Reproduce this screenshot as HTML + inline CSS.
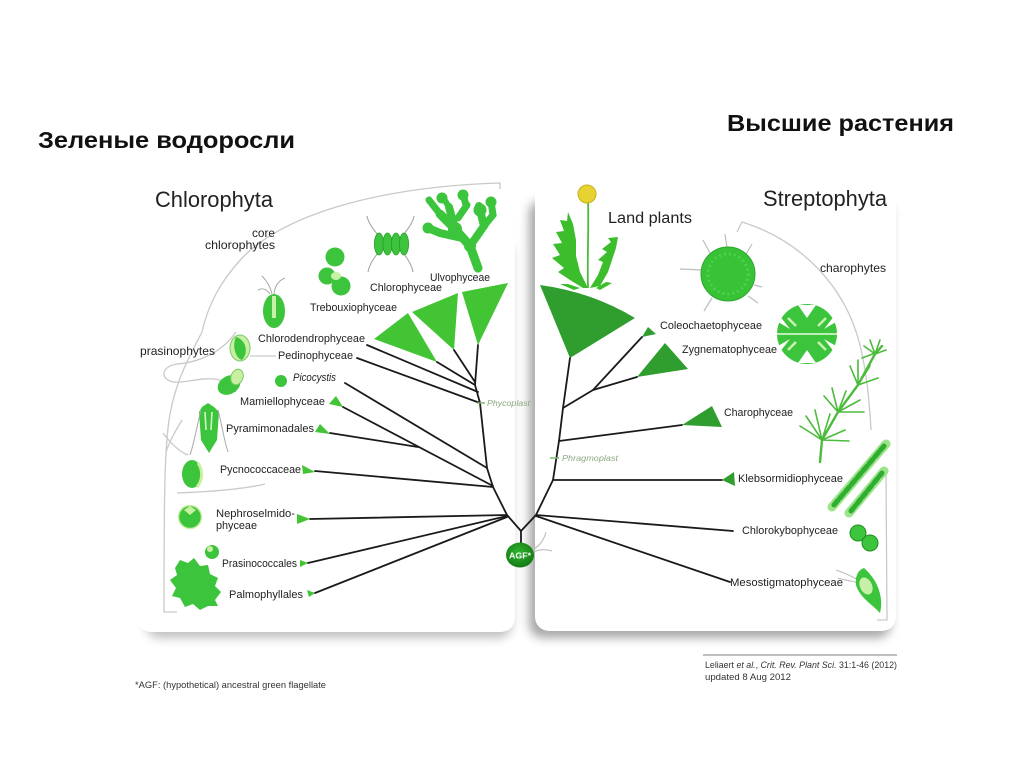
<!DOCTYPE html>
<html><head><meta charset="utf-8"><style>
html,body{margin:0;padding:0;background:#fff;}
svg{display:block;}
text{font-family:"Liberation Sans","DejaVu Sans",sans-serif;fill:#222;}
</style></head><body>
<svg width="1024" height="767" viewBox="0 0 1024 767" xmlns="http://www.w3.org/2000/svg">
<defs>
<filter id="blur" x="-20%" y="-20%" width="140%" height="140%"><feGaussianBlur stdDeviation="5"/></filter>
<radialGradient id="agf" cx="45%" cy="40%" r="60%"><stop offset="0" stop-color="#2fb52f"/><stop offset="1" stop-color="#157a15"/></radialGradient>
</defs>
<rect width="1024" height="767" fill="#fff"/>

<!-- headings -->
<text x="38" y="148" font-size="23" font-weight="bold" textLength="257" lengthAdjust="spacingAndGlyphs" style="fill:#111">Зеленые водоросли</text>
<text x="727" y="131" font-size="23" font-weight="bold" textLength="227" lengthAdjust="spacingAndGlyphs" style="fill:#111">Высшие растения</text>

<!-- panel shadows -->
<rect x="146" y="240" width="366" height="398" rx="14" fill="#8a8a8a" opacity=".55" filter="url(#blur)"/>
<rect x="529" y="200" width="362" height="438" rx="14" fill="#8a8a8a" opacity=".75" filter="url(#blur)"/>
<rect x="535" y="183" width="361" height="448" rx="14" fill="#fff"/>
<rect x="137" y="180" width="378" height="452" rx="14" fill="#fff"/>

<!-- grey arcs left -->
<g fill="none" stroke="#c9c9c9" stroke-width="1.3">
<path d="M500,189 L500,183 C400,186 292,207 242,258 C220,282 208,305 202,332"/>
<path d="M202,332 C192,352 175,380 169,420 C165,450 164,480 164,612 L177,612"/>
<path d="M236,332 C222,352 200,362 178,364 C158,366 160,384 180,382 C202,380 222,372 236,392"/>
<path d="M250,356 L276,356"/>
<path d="M163,433 C172,445 180,452 188,455"/>
<path d="M177,493 C205,492 240,490 265,484"/>
<path d="M182,420 C176,430 170,440 166,452"/>
</g>
<!-- grey arcs right -->
<g fill="none" stroke="#c9c9c9" stroke-width="1.3">
<path d="M737,232 L742,222 C800,240 845,285 860,345 C866,370 869,395 871,430"/>
<path d="M878,472 L886,474 L887,620 L877,620"/>
</g>

<!-- left titles -->
<text x="155" y="207" font-size="22" textLength="118" lengthAdjust="spacingAndGlyphs">Chlorophyta</text>
<text x="252" y="237" font-size="12" textLength="23" lengthAdjust="spacingAndGlyphs">core</text>
<text x="205" y="249" font-size="12" textLength="70" lengthAdjust="spacingAndGlyphs">chlorophytes</text>
<text x="140" y="355" font-size="12" textLength="75" lengthAdjust="spacingAndGlyphs">prasinophytes</text>

<!-- right titles -->
<text x="763" y="206" font-size="22" textLength="124" lengthAdjust="spacingAndGlyphs">Streptophyta</text>
<text x="608" y="223" font-size="15.5" textLength="84" lengthAdjust="spacingAndGlyphs">Land plants</text>
<text x="820" y="272" font-size="12" textLength="66" lengthAdjust="spacingAndGlyphs">charophytes</text>

<!-- organisms left -->
<g fill="#3cc43c">
<!-- Ulvophyceae -->
<g stroke="#3cc43c" stroke-linecap="round" fill="none">
<path d="M478,268 L470,246 L455,229 L440,214" stroke-width="9"/>
<path d="M470,246 L484,226 L479,206" stroke-width="8"/>
<path d="M455,229 L449,207" stroke-width="8"/>
<path d="M440,214 L429,200" stroke-width="7"/>
<path d="M484,226 L493,215 L491,201" stroke-width="7"/>
<path d="M462,238 L440,233 L428,228" stroke-width="8"/>
<path d="M449,207 L442,196" stroke-width="6"/>
<path d="M466,205 L463,194" stroke-width="7"/>
<path d="M458,218 L467,205" stroke-width="7"/>
</g>
<circle cx="442" cy="198" r="5.5"/><circle cx="463" cy="195" r="5.5"/><circle cx="480" cy="210" r="6.5"/><circle cx="491" cy="202" r="5.5"/><circle cx="428" cy="228" r="5.5"/><circle cx="455" cy="229" r="7"/><circle cx="470" cy="246" r="6"/>
<!-- Chlorophyceae (Scenedesmus) -->
<g fill="none" stroke="#a8a8a8" stroke-width="1.1">
<path d="M378,235 C372,228 368,222 367,216"/><path d="M378,253 C372,260 369,266 368,272"/>
<path d="M403,235 C409,228 413,222 414,216"/><path d="M403,253 C409,260 412,266 413,272"/>
</g>
<ellipse cx="379" cy="244" rx="4.6" ry="11" stroke="#2a9a2a" stroke-width=".8"/>
<ellipse cx="387.5" cy="244" rx="4.6" ry="11" stroke="#2a9a2a" stroke-width=".8"/>
<ellipse cx="396" cy="244" rx="4.6" ry="11" stroke="#2a9a2a" stroke-width=".8"/>
<ellipse cx="404" cy="244" rx="4.6" ry="11" stroke="#2a9a2a" stroke-width=".8"/>
<!-- Trebouxiophyceae -->
<circle cx="335" cy="257" r="9.5"/><circle cx="327" cy="276" r="8.5"/><circle cx="341" cy="286" r="9.5"/>
<ellipse cx="336" cy="276" rx="5" ry="4" fill="#c8f0a6"/>
<!-- Chlorodendro -->
<g fill="none" stroke="#a8a8a8" stroke-width="1"><path d="M272,294 C270,285 266,280 262,276"/><path d="M274,294 C275,284 280,280 285,278"/><path d="M270,294 C266,288 262,288 258,290"/></g>
<ellipse cx="274" cy="311" rx="11" ry="17"/>
<path d="M272,296 L276,296 L276,318 L272,318 Z" fill="#c8f0a6"/>
<!-- prasinophyte cells -->
<ellipse cx="240" cy="348" rx="10" ry="13" fill="#c9efa0" stroke="#7bc86b"/>
<path d="M236,337 C246,340 249,352 242,360 C235,358 232,345 236,337 Z"/>
<ellipse cx="229" cy="385" rx="12" ry="9" transform="rotate(-30 229 385)"/>
<ellipse cx="237" cy="377" rx="6" ry="8" fill="#c9efa0" stroke="#7bc86b" transform="rotate(20 237 377)"/>
<path d="M202,407 L208,403 L214,407 L219,412 L217,440 L209,453 L201,440 L199,412 Z"/>
<path d="M205,412 L206,430 M212,412 L211,430" stroke="#d8f7c8" stroke-width="1.6" fill="none"/>
<g fill="none" stroke="#a8a8a8" stroke-width="1"><path d="M201,410 C197,425 195,440 190,455"/><path d="M218,410 C222,425 224,440 228,452"/></g>
<ellipse cx="192" cy="474" rx="10" ry="14"/>
<path d="M198,463 C203,470 203,480 197,487" stroke="#c9efa0" stroke-width="3" fill="none"/>
<circle cx="190" cy="517" r="11.5" stroke="#c9efa0" stroke-width="1.5"/>
<path d="M184,510 L190,506 L196,510 L190,515 Z" fill="#c9efa0"/>
<circle cx="212" cy="552" r="7"/>
<circle cx="210" cy="549" r="3" fill="#c9efa0"/>
<path d="M175,568 L180,560 L188,563 L194,558 L200,566 L208,565 L210,574 L218,578 L215,586 L221,592 L215,600 L218,606 L208,606 L200,610 L193,604 L185,607 L180,598 L172,596 L176,588 L170,580 L177,575 Z"/>
<circle cx="281" cy="381" r="6"/>
</g>

<!-- organisms right -->
<!-- dandelion -->
<path d="M588,200 C589,230 587,260 588,288" stroke="#4cbb3c" stroke-width="1.8" fill="none"/>
<circle cx="587" cy="194" r="9" fill="#e6d231" stroke="#c9b21c"/>
<path d="M583,288 L570,280 L558,272 L564,268 L552,258 L560,255 L553,244 L562,243 L556,232 L564,231 L560,220 L567,221 L568,212 L573,224 L576,240 L576,256 L580,272 L588,288 Z" fill="#3cbe2c"/>
<path d="M590,288 L598,275 L603,262 L598,260 L607,252 L602,249 L611,242 L608,238 L618,237 L616,248 L612,260 L608,272 L600,286 Z" fill="#3cbe2c"/>
<path d="M580,288 L568,284 L560,284 L574,290 Z M596,288 L606,282 L612,283 L600,290 Z" fill="#3cbe2c"/>
<!-- Coleochaete -->
<g stroke="#bdbdbd" stroke-width="1.2">
<line x1="703" y1="240" x2="711" y2="255"/><line x1="725" y1="234" x2="727" y2="248"/><line x1="680" y1="269" x2="702" y2="270"/>
<line x1="704" y1="311" x2="712" y2="298"/><line x1="758" y1="303" x2="748" y2="296"/><line x1="762" y1="287" x2="754" y2="285"/><line x1="752" y1="244" x2="746" y2="254"/>
</g>
<circle cx="728" cy="274" r="27" fill="#38c238" stroke="#2aa82a"/>
<circle cx="728" cy="274" r="20" fill="none" stroke="#4ad44a" stroke-dasharray="2 3" stroke-width="3"/>
<!-- Micrasterias -->
<circle cx="807" cy="334" r="30" fill="#3cc43c"/>
<path d="M777,334 L837,334" stroke="#e8fbe0" stroke-width="1.5"/>
<path d="M798,305 L807,318 L816,305 Z M798,363 L807,350 L816,363 Z M778,322 L790,329 L779,315 Z M836,322 L824,329 L835,315 Z M778,346 L790,339 L779,353 Z M836,346 L824,339 L835,353 Z" fill="#ffffff"/>
<path d="M788,318 L796,326 M826,318 L818,326 M788,350 L796,342 M826,350 L818,342" stroke="#c8f0b0" stroke-width="2.5" fill="none"/>
<!-- Chara -->
<g stroke="#4cbb3c" stroke-width="1.6" fill="none" stroke-linecap="round">
<path d="M820,462 L822,440 L838,412 L858,385 L875,354 L882,346" stroke-width="2.4"/>
<path d="M822,440 L800,426 M822,440 L806,416 M822,440 L815,410 M822,440 L830,414 M822,440 L845,430 M822,440 L849,441"/>
<path d="M838,412 L824,396 M838,412 L832,388 M838,412 L846,391 M838,412 L860,400 M838,412 L864,412"/>
<path d="M858,385 L850,366 M858,385 L858,360 M858,385 L870,366 M858,385 L878,378"/>
<path d="M875,354 L864,346 M875,354 L870,340 M875,354 L880,340 M875,354 L886,350"/>
<path d="M862,358 L878,352" />
</g>
<!-- Klebsormidium -->
<g stroke-linecap="round">
<line x1="832" y1="507" x2="886" y2="444" stroke="#9ce48a" stroke-width="9"/>
<line x1="834" y1="505" x2="884" y2="446" stroke="#2fae2f" stroke-width="5" stroke-dasharray="6 3"/>
<line x1="849" y1="513" x2="884" y2="471" stroke="#9ce48a" stroke-width="9"/>
<line x1="851" y1="511" x2="882" y2="473" stroke="#2fae2f" stroke-width="5" stroke-dasharray="6 3"/>
</g>
<!-- Chlorokybus -->
<circle cx="858" cy="533" r="8" fill="#3cc43c" stroke="#1f8f1f"/>
<circle cx="870" cy="543" r="8" fill="#3cc43c" stroke="#1f8f1f"/>
<!-- Mesostigma -->
<g fill="none" stroke="#bdbdbd" stroke-width="1.1"><path d="M858,580 C850,575 842,572 836,570"/><path d="M858,583 C850,580 842,580 838,578"/></g>
<path d="M864,568 C878,580 884,598 880,613 C872,604 860,598 856,585 C855,576 858,570 864,568 Z" fill="#3cc43c"/>
<ellipse cx="866" cy="586" rx="6" ry="9" fill="#c6f0a8" transform="rotate(-25 866 586)"/>

<!-- left triangles -->
<g fill="#42c434">
<polygon points="437,362 374,339 408,313"/>
<polygon points="454,350 412,312 458,293"/>
<polygon points="478,345 462,292 508,283"/>
<polygon points="343,407 329,404 336,396"/>
<polygon points="330,434 315,432 320,424"/>
<polygon points="315,472 302,465 303,474"/>
<polygon points="310,519 297,514 297,524"/>
<polygon points="308,563 300,560 300,567"/>
<polygon points="315,593 307,590 309,597"/>
</g>
<!-- right triangles -->
<g fill="#2f9e2f">
<path d="M570,358 L540,285 Q592,292 635,318 Z"/>
<polygon points="642,337 648,327 656,334"/>
<polygon points="637,377 665,343 688,369"/>
<polygon points="682,425 712,406 722,427"/>
<polygon points="722,480 734,472 735,486"/>
</g>

<!-- tree lines -->
<g stroke="#1a1a1a" stroke-width="1.8" fill="none" stroke-linejoin="round" stroke-linecap="round">
<path d="M521,545 L521,531 L507,515 L493,487 L487,468 L480,403 L475,385 L478,345"/>
<path d="M454,350 L475,382"/>
<path d="M437,362 L475,385"/>
<path d="M367,345 L478,392"/>
<path d="M357,358 L480,403"/>
<path d="M345,383 L487,468"/>
<path d="M343,407 L493,486"/>
<path d="M330,433 L418,447"/>
<path d="M315,471 L493,487"/>
<path d="M310,519 L507,515"/>
<path d="M308,563 L507,516"/>
<path d="M315,593 L507,517"/>
<path d="M521,531 L536,515 L553,480 L559,441 L563,408 L570,358"/>
<path d="M563,408 L593,390 L642,337"/>
<path d="M593,390 L637,377"/>
<path d="M559,441 L682,425"/>
<path d="M553,480 L722,480"/>
<path d="M536,515 L733,531"/>
<path d="M536,516 L730,582"/>
</g>

<!-- phycoplast / phragmoplast -->
<line x1="477" y1="403" x2="485" y2="403" stroke="#7fb86f" stroke-width="1.5"/>
<text x="487" y="406" font-size="8" font-style="italic" style="fill:#8aa880" textLength="43" lengthAdjust="spacingAndGlyphs">Phycoplast</text>
<line x1="550" y1="458" x2="559" y2="458" stroke="#7fb86f" stroke-width="1.5"/>
<text x="562" y="461" font-size="8" font-style="italic" style="fill:#8aa880" textLength="56" lengthAdjust="spacingAndGlyphs">Phragmoplast</text>

<!-- AGF -->
<g fill="none" stroke="#bdbdbd" stroke-width="1.1"><path d="M533,550 C540,545 544,540 546,532"/><path d="M533,552 C540,549 546,549 552,551"/></g>
<ellipse cx="520" cy="555" rx="14" ry="12.5" fill="url(#agf)"/>
<text x="509" y="558.5" font-size="8.5" font-weight="bold" style="fill:#fff" textLength="22" lengthAdjust="spacingAndGlyphs">AGF*</text>

<!-- left labels -->
<g font-size="11">
<text x="310" y="311" textLength="87" lengthAdjust="spacingAndGlyphs">Trebouxiophyceae</text>
<text x="370" y="291" textLength="72" lengthAdjust="spacingAndGlyphs">Chlorophyceae</text>
<text x="430" y="281" textLength="60" lengthAdjust="spacingAndGlyphs">Ulvophyceae</text>
<text x="258" y="342" textLength="107" lengthAdjust="spacingAndGlyphs">Chlorodendrophyceae</text>
<text x="278" y="359" textLength="75" lengthAdjust="spacingAndGlyphs">Pedinophyceae</text>
<text x="293" y="381" font-style="italic" textLength="43" lengthAdjust="spacingAndGlyphs">Picocystis</text>
<text x="240" y="405" textLength="85" lengthAdjust="spacingAndGlyphs">Mamiellophyceae</text>
<text x="226" y="432" textLength="88" lengthAdjust="spacingAndGlyphs">Pyramimonadales</text>
<text x="220" y="473" textLength="81" lengthAdjust="spacingAndGlyphs">Pycnococcaceae</text>
<text x="216" y="517" textLength="79" lengthAdjust="spacingAndGlyphs">Nephroselmido-</text>
<text x="216" y="529" textLength="41" lengthAdjust="spacingAndGlyphs">phyceae</text>
<text x="222" y="567" textLength="75" lengthAdjust="spacingAndGlyphs">Prasinococcales</text>
<text x="229" y="598" textLength="74" lengthAdjust="spacingAndGlyphs">Palmophyllales</text>
</g>
<!-- right labels -->
<g font-size="11">
<text x="660" y="329" textLength="102" lengthAdjust="spacingAndGlyphs">Coleochaetophyceae</text>
<text x="682" y="353" textLength="95" lengthAdjust="spacingAndGlyphs">Zygnematophyceae</text>
<text x="724" y="416" textLength="69" lengthAdjust="spacingAndGlyphs">Charophyceae</text>
<text x="738" y="482" textLength="105" lengthAdjust="spacingAndGlyphs">Klebsormidiophyceae</text>
<text x="742" y="534" textLength="96" lengthAdjust="spacingAndGlyphs">Chlorokybophyceae</text>
<text x="730" y="586" textLength="113" lengthAdjust="spacingAndGlyphs">Mesostigmatophyceae</text>
</g>

<!-- footnotes -->
<text x="135" y="688" font-size="9.5" textLength="191" lengthAdjust="spacingAndGlyphs" style="fill:#333">*AGF: (hypothetical) ancestral green flagellate</text>
<line x1="703" y1="655" x2="897" y2="655" stroke="#555" stroke-width=".8"/>
<text x="705" y="668" font-size="9.5" textLength="192" lengthAdjust="spacingAndGlyphs" style="fill:#333">Leliaert <tspan font-style="italic">et al.</tspan>, <tspan font-style="italic">Crit. Rev. Plant Sci.</tspan> 31:1-46 (2012)</text>
<text x="705" y="680" font-size="9.5" textLength="86" lengthAdjust="spacingAndGlyphs" style="fill:#333">updated 8 Aug 2012</text>
</svg>
</body></html>
